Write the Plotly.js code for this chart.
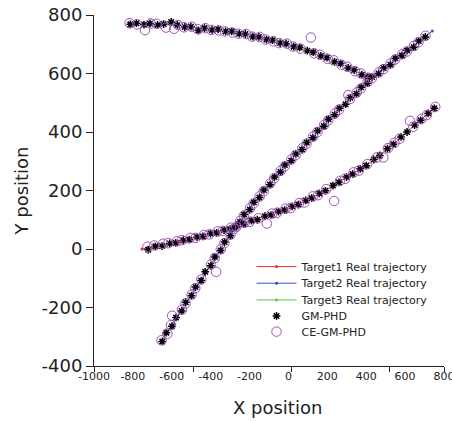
<!DOCTYPE html>
<html>
<head>
<meta charset="utf-8">
<script src="https://cdn.plot.ly/plotly-3.0.1.min.js"></script>
<style>html,body{margin:0;padding:0;background:#fff;}#chart{width:452px;height:422px;}</style>
</head>
<body>
<div id="chart"></div>
<script>
// ---- Target 1 (red) real trajectory ----
var t1x = [-753,-718,-683,-648,-613,-578,-543,-508,-473,-438,-403,-368,-333,-298,-263,-228,-193,-158,-123,-88,-53,-18,17,52,87,122,157,192,227,262,297,332,367,402,437,472,507,542,577,612,647,682,717,752];
var t1y = [0,4,8,12,17,23,28,34,39,45,51,57,63,70,79,87,95,102,110,118,126,135,144,154,164,176,188,201,215,230,244,258,272,287,304,322,341,360,381,402,422,442,462,483];
// ---- Target 2 (blue) real trajectory ----
var t2x = [-651,-626,-601,-576,-551,-526,-501,-476,-451,-426,-401,-376,-351,-326,-301,-276,-251,-226,-201,-176,-151,-124,-97,-70,-43,-16,12,40,68,96,124,152,180,208,236,264,292,320,348,376,404,432,462,492,522,552,582,612,642,672,702,740];
var t2y = [-314,-288,-262,-236,-210,-184,-158,-132,-106,-80,-55,-29,-3,22,47,71,94,116,137,158,178,200,222,244,265,285,304,323,342,362,382,402,422,442,461,479,497,515,533,551,569,586,602,617,632,650,664,677,692,709,727,745];
// ---- Target 3 (green) real trajectory ----
var t3x = [-815,-780,-745,-710,-675,-640,-605,-570,-535,-500,-465,-430,-395,-360,-325,-290,-255,-220,-185,-150,-115,-80,-45,-10,25,60,95,130,165,200,235,270,305,340,375,410];
var t3y = [770,770,769,769,768,767,766,764,761,758,755,753,751,749,746,742,738,733,728,723,718,712,706,700,694,687,680,671,662,652,642,632,621,610,598,587];

// ---- GM-PHD estimates ----
var gm1x = [-721,-684,-650,-611,-580,-541,-510,-470,-440,-401,-370,-331,-300,-261,-230,-190,-160,-121,-90,-51,-20,19,50,89,120,159,190,229,260,299,330,369,400,439,470,509,540,579,610,649,680,719,750];
var gm1y = [-2,9,10,19,21,30,32,41,43,53,55,65,68,81,85,97,100,112,116,128,133,146,152,166,174,190,199,217,228,246,256,274,285,306,320,343,358,383,400,424,440,464,481];
var gm2x = [-649,-628,-599,-578,-549,-528,-499,-478,-449,-428,-399,-378,-349,-328,-299,-278,-249,-228,-199,-178,-149,-126,-95,-72,-41,-18,14,38,70,94,126,150,182,206,238,262,294,318,350,374,406,430,464,490,524,550,584,610,644,670,704];
var gm2y = [-316,-286,-264,-234,-212,-182,-160,-130,-108,-78,-57,-27,-5,24,45,73,92,118,135,160,176,202,220,246,263,287,302,325,340,364,380,404,420,444,459,481,495,517,531,553,567,588,600,619,630,652,662,679,690,711,725];
var gm3x = [-813,-782,-743,-712,-673,-642,-603,-572,-533,-502,-463,-432,-393,-362,-323,-292,-253,-222,-183,-152,-113,-82,-43,-12,27,58,97,128,167,198,237,268,307,338,377,408];
var gm3y = [768,772,767,771,766,769,776,766,759,760,747,755,749,751,744,744,736,735,726,725,716,714,704,702,692,689,678,673,660,654,640,634,619,612,596,589];

// ---- CE-GM-PHD estimates ----
var ce1x = [-725,-690,-645,-618,-575,-548,-505,-478,-435,-408,-365,-338,-295,-268,-225,-198,-155,-111,-85,-58,-15,12,55,82,125,152,195,235,265,292,335,362,405,454,488,512,545,572,625,642,685,712,755];
var ce1y = [8,12,18,20,26,30,38,38,48,50,60,62,73,76,90,93,105,87,121,124,138,140,157,159,180,184,205,164,233,240,262,268,290,313,313,345,363,377,438,418,445,458,486];
var ce2x = [-653,-623,-604,-598,-548,-529,-498,-479,-448,-372,-398,-379,-348,-329,-298,-279,-248,-229,-198,-179,-148,-127,-94,-73,-40,-19,15,37,71,93,127,149,183,205,239,261,308,317,351,373,407,429,465,489,525,549,585,609,645,669,705];
var ce2y = [-312,-290,-260,-228,-208,-186,-156,-134,-104,-78,-53,-31,-1,20,49,69,96,114,139,156,180,198,224,242,267,283,306,321,344,360,384,400,424,440,463,477,526,513,535,549,571,584,604,615,634,648,666,675,694,707,729];
var ce3x = [-817,-778,-738,-708,-677,-630,-588,-568,-537,-498,-467,-428,-397,-358,-327,-288,-257,-218,-187,-148,-117,-78,-47,-8,23,62,115,132,163,202,233,272,303,342,373,412];
var ce3y = [772,768,748,771,770,757,753,766,758,760,752,755,749,747,744,740,736,735,726,725,716,710,704,702,692,685,723,669,664,650,645,630,623,608,600,585];

// ---- Axis ticks ----
var xTickVals = [-1000,-800,-600,-400,-200,0,200,400,600,800];
var xTickText = ['-1000','-800','-600','-400','-200','0','200','400','600','800'];
var xMarkVals = [-1000,-490,15,520,800];
var yTickVals = [-400,-200,0,200,400,600,800];
var yTickText = ['-400','-200','0','200','400','600','800'];

var FONT = 'DejaVu Sans';
function truth(x, y, name, color, lg) {
  return {x: x, y: y, name: name, type: 'scatter', mode: 'lines+markers', legend: lg,
    line: {color: color, width: 1}, marker: {color: color, size: 3}};
}
var gmX = gm1x.concat(gm2x, gm3x), gmY = gm1y.concat(gm2y, gm3y);
var ceX = ce1x.concat(ce2x, ce3x), ceY = ce1y.concat(ce2y, ce3y);

var data = [
  truth(t1x, t1y, 'Target1 Real trajectory', 'rgb(235,45,45)', 'legend'),
  truth(t2x, t2y, 'Target2 Real trajectory', 'rgb(45,85,190)', 'legend2'),
  truth(t3x, t3y, 'Target3 Real trajectory', 'rgb(85,200,65)', 'legend3'),
  {x: gmX, y: gmY, name: 'GM-PHD', type: 'scatter', mode: 'markers', legend: 'legend4',
    marker: {symbol: 'asterisk-open', size: 6.5, color: '#000', line: {color: '#000', width: 1.5}}},
  {x: ceX, y: ceY, name: 'CE-GM-PHD', type: 'scatter', mode: 'markers', legend: 'legend5',
    marker: {symbol: 'circle-open', size: 9.5, color: 'rgb(160,80,190)', line: {color: 'rgb(160,80,190)', width: 1}}},
  {x: [], y: [], xaxis: 'x2', yaxis: 'y', showlegend: false, hoverinfo: 'skip', type: 'scatter', mode: 'markers'}
];

function leg(y) {
  return {x: 0.45, y: y, xanchor: 'left', yanchor: 'top', bgcolor: 'rgba(0,0,0,0)', borderwidth: 0,
    itemwidth: 40, font: {family: FONT, size: 11, color: '#222'}};
}

var layout = {
  width: 452, height: 422,
  margin: {l: 94, r: 8, t: 15, b: 56, pad: 0},
  paper_bgcolor: '#fff', plot_bgcolor: '#fff',
  font: {family: FONT, color: '#222'},
  showlegend: true,
  xaxis: {
    range: [-1000, 800], tickmode: 'array', tickvals: xTickVals, ticktext: xTickText,
    ticks: '', showline: true, linecolor: '#222', linewidth: 1, showgrid: false, zeroline: false,
    ticklabeloverflow: 'allow',
    tickfont: {family: FONT, size: 11, color: '#222'}
  },
  xaxis2: {
    overlaying: 'x', anchor: 'y', side: 'bottom', range: [-1000, 800],
    tickmode: 'array', tickvals: xMarkVals, ticks: 'outside', ticklen: 5, tickcolor: '#222', tickwidth: 1,
    showticklabels: false, showline: false, showgrid: false, zeroline: false
  },
  yaxis: {
    range: [-400, 800], tickmode: 'array', tickvals: yTickVals, ticktext: yTickText,
    ticks: 'outside', ticklen: 7, tickcolor: '#222', tickwidth: 1,
    showline: true, linecolor: '#222', linewidth: 1, showgrid: false, zeroline: false,
    tickfont: {family: FONT, size: 18, color: '#222'},
    title: {text: 'Y position', font: {family: FONT, size: 18, color: '#222'}, standoff: 8}
  },
  annotations: [{
    text: 'X position', xref: 'paper', yref: 'paper', x: 0.523, y: -0.117,
    xanchor: 'center', yanchor: 'middle', showarrow: false,
    font: {family: FONT, size: 18, color: '#222'}
  }],
  legend: leg(0.3245),
  legend2: leg(0.2772),
  legend3: leg(0.2296),
  legend4: leg(0.1840),
  legend5: leg(0.1393)
};

Plotly.newPlot('chart', data, layout, {displayModeBar: false, staticPlot: true});
</script>
</body>
</html>
